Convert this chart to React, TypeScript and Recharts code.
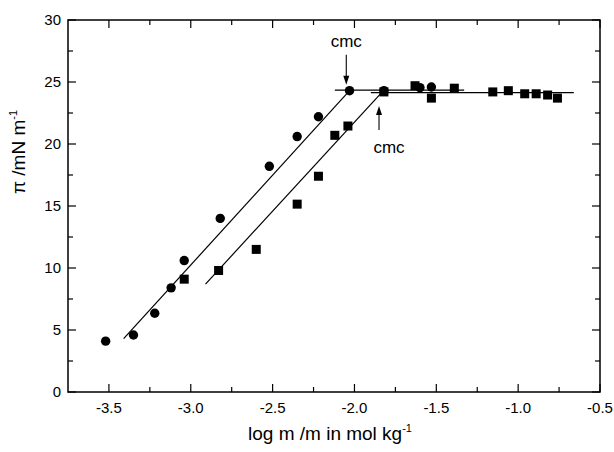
import React from "react";
import {
  ScatterChart,
  Scatter,
  XAxis,
  YAxis,
  ReferenceArea,
  ReferenceDot,
} from "recharts";

// measured points (log m, pi)
const circleX = [-3.52, -3.35, -3.22, -3.12, -3.04, -2.82, -2.52, -2.35, -2.22, -2.03, -1.82, -1.6, -1.53];
const circleY = [4.1, 4.6, 6.35, 8.4, 10.6, 14.0, 18.2, 20.6, 22.2, 24.3, 24.3, 24.55, 24.6];

const squareX = [-3.04, -2.83, -2.6, -2.35, -2.22, -2.12, -2.04, -1.82, -1.63, -1.53, -1.39, -1.155, -1.06, -0.96, -0.89, -0.82, -0.76];
const squareY = [9.1, 9.8, 11.5, 15.15, 17.4, 20.7, 21.45, 24.2, 24.7, 23.7, 24.5, 24.2, 24.3, 24.05, 24.05, 23.95, 23.7];

// fitted lines (end points)
const circleSlopeX = [-3.41, -2.03];
const circleSlopeY = [4.3, 24.3];
const circlePlateauX = [-2.12, -1.33];
const circlePlateauY = [24.35, 24.35];
const squareSlopeX = [-2.91, -1.83];
const squareSlopeY = [8.7, 24.2];
const squarePlateauX = [-1.9, -0.66];
const squarePlateauY = [24.15, 24.15];

// cmc markers
const cmcUpper = { x: -2.05, y: 24.3 };
const cmcLower = { x: -1.85, y: 24.2 };

const xMajor = [-3.5, -3.0, -2.5, -2.0, -1.5, -1.0, -0.5];
const xMinor = [-3.25, -2.75, -2.25, -1.75, -1.25, -0.75];
const yMajor = [0, 5, 10, 15, 20, 25, 30];
const yMinor = [2.5, 7.5, 12.5, 17.5, 22.5, 27.5];

const zip = (xs: number[], ys: number[]) => xs.map((x, i) => ({ x, y: ys[i] }));

const W = 614;
const H = 452;
const PLOT_W = 532;
const PLOT_H = 372;
const FONT = "'Liberation Sans', Arial, sans-serif";

const XTick = (props: any) => {
  const { x, y, payload } = props;
  const major = xMajor.includes(payload.value);
  const len = major ? 8 : 5;
  return (
    <g>
      <line x1={x} y1={y} x2={x} y2={y - len} stroke="#000" strokeWidth={1.2} />
      <line x1={x} y1={y - PLOT_H} x2={x} y2={y - PLOT_H + len} stroke="#000" strokeWidth={1.2} />
      {major && (
        <text x={x} y={y + 21} textAnchor="middle" fontSize={15} fontFamily={FONT} fill="#000">
          {payload.value.toFixed(1)}
        </text>
      )}
    </g>
  );
};

const YTick = (props: any) => {
  const { x, y, payload } = props;
  const major = yMajor.includes(payload.value);
  const len = major ? 8 : 5;
  return (
    <g>
      <line x1={x} y1={y} x2={x + len} y2={y} stroke="#000" strokeWidth={1.2} />
      <line x1={x + PLOT_W} y1={y} x2={x + PLOT_W - len} y2={y} stroke="#000" strokeWidth={1.2} />
      {major && (
        <text x={x - 7} y={y + 5.4} textAnchor="end" fontSize={15} fontFamily={FONT} fill="#000">
          {payload.value}
        </text>
      )}
    </g>
  );
};

const XTitle = (props: any) => {
  const vb = props.viewBox;
  return (
    <text x={vb.x + vb.width / 2 - 4} y={vb.y + 48} textAnchor="middle" fontSize={19} fontFamily={FONT} fill="#000">
      log m /m in mol kg
      <tspan dy={-8} fontSize={11}>-1</tspan>
    </text>
  );
};

const YTitle = (props: any) => {
  const vb = props.viewBox;
  const cx = vb.x + 25;
  const cy = vb.y + 132;
  return (
    <text x={cx} y={cy} transform={`rotate(-90 ${cx} ${cy})`} textAnchor="middle" fontSize={19} fontFamily={FONT} fill="#000">
      π /mN m
      <tspan dy={-8} fontSize={11}>-1</tspan>
    </text>
  );
};

const Circle = (p: any) => <circle cx={p.cx} cy={p.cy} r={4.7} fill="#000" />;
const Square = (p: any) => <rect x={p.cx - 4.5} y={p.cy - 4.5} width={9} height={9} fill="#000" />;
const NoMark = () => <g />;

const arrowHead = (x: number, y: number, dir: number) =>
  `M${x},${y} L${x - 3},${y - dir * 9} L${x + 3},${y - dir * 9} Z`;

const UpperCmc = (p: any) => (
  <g>
    <line x1={p.cx} y1={p.cy - 36} x2={p.cx} y2={p.cy - 12} stroke="#000" strokeWidth={1.1} />
    <path d={arrowHead(p.cx, p.cy - 6, 1)} fill="#000" />
    <text x={p.cx} y={p.cy - 44} textAnchor="middle" fontSize={17} fontFamily={FONT} fill="#000">
      cmc
    </text>
  </g>
);

const LowerCmc = (p: any) => (
  <g>
    <line x1={p.cx} y1={p.cy + 38} x2={p.cx} y2={p.cy + 20} stroke="#000" strokeWidth={1.1} />
    <path d={arrowHead(p.cx, p.cy + 14, -1)} fill="#000" />
    <text x={p.cx + 10} y={p.cy + 61} textAnchor="middle" fontSize={17} fontFamily={FONT} fill="#000">
      cmc
    </text>
  </g>
);

const lineStyle = { stroke: "#000", strokeWidth: 1.2 };

export default function App() {
  return (
    <div style={{ position: "absolute", left: 0, top: 0, background: "#fff" }}>
      <ScatterChart width={W} height={H} margin={{ top: 20, right: 14, bottom: 0, left: 0 }}>
        <XAxis
          type="number"
          dataKey="x"
          domain={[-3.75, -0.5]}
          ticks={[...xMajor, ...xMinor]}
          interval={0}
          allowDataOverflow
          height={60}
          axisLine={false}
          tickLine={false}
          tickSize={0}
          tickMargin={0}
          tick={<XTick />}
          label={{ content: (p: any) => <XTitle {...p} /> }}
        />
        <YAxis
          type="number"
          dataKey="y"
          domain={[0, 30]}
          ticks={[...yMajor, ...yMinor]}
          interval={0}
          allowDataOverflow
          width={68}
          axisLine={false}
          tickLine={false}
          tickSize={0}
          tickMargin={0}
          tick={<YTick />}
          label={{ content: (p: any) => <YTitle {...p} /> }}
        />
        <ReferenceArea x1={-3.75} x2={-0.5} y1={0} y2={30} fill="none" stroke="#000" strokeWidth={1.5} />
        <Scatter data={zip(circleSlopeX, circleSlopeY)} line={lineStyle} shape={NoMark} isAnimationActive={false} />
        <Scatter data={zip(circlePlateauX, circlePlateauY)} line={lineStyle} shape={NoMark} isAnimationActive={false} />
        <Scatter data={zip(squareSlopeX, squareSlopeY)} line={lineStyle} shape={NoMark} isAnimationActive={false} />
        <Scatter data={zip(squarePlateauX, squarePlateauY)} line={lineStyle} shape={NoMark} isAnimationActive={false} />
        <Scatter data={zip(squareX, squareY)} shape={Square} isAnimationActive={false} />
        <Scatter data={zip(circleX, circleY)} shape={Circle} isAnimationActive={false} />
        <ReferenceDot x={cmcUpper.x} y={cmcUpper.y} shape={UpperCmc} />
        <ReferenceDot x={cmcLower.x} y={cmcLower.y} shape={LowerCmc} />
      </ScatterChart>
    </div>
  );
}
